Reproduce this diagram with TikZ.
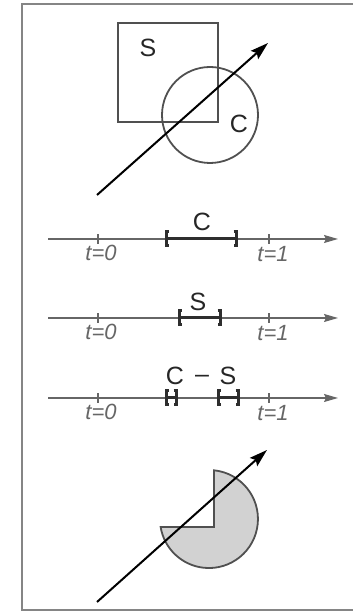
\documentclass[tikz,border=0pt]{standalone}
\usepackage{fontspec}
\setmainfont{Liberation Sans}
\usetikzlibrary{arrows.meta}
\definecolor{framegray}{HTML}{858585}
\definecolor{shapegray}{HTML}{505050}
\definecolor{linegray}{HTML}{666666}
\definecolor{intgray}{HTML}{2E2E2E}
\definecolor{fillgray}{HTML}{D2D2D2}
\tikzset{
  frameline/.style={draw=framegray, line width=2.5pt},
  shapeline/.style={draw=shapegray, line width=1.8pt},
  ray/.style={draw=black, line width=2pt, -{Stealth[length=18pt,width=11pt,inset=3pt]}},
  numline/.style={draw=linegray, line width=1.4pt, -{Stealth[length=14pt,width=8pt,inset=2pt]}},
  tickmark/.style={draw=linegray, line width=1.1pt},
  interval/.style={draw=intgray, line width=3pt},
  biglabel/.style={inner sep=0pt, text=black!85, font=\fontsize{25}{28}\selectfont},
  tlabel/.style={inner sep=0pt, text=linegray, font=\fontsize{22}{24}\selectfont\itshape},
}
\begin{document}
\begin{tikzpicture}[x=1pt,y=1pt]
\useasboundingbox (0,0) rectangle (353,613);
% frame
\draw[frameline] (353,609) -- (22,609) -- (22,3) -- (353,3);

% top figure
\draw[shapeline] (118,491) rectangle (218,590);
\node[biglabel] (lS) at (148,565) {S};
\draw[shapeline] (210,498) circle[radius=48];
\node[biglabel] (lC) at (239,489) {C};
\coordinate (r1a) at (97,418);
\coordinate (r1b) at (268,570);
\draw[ray] (r1a) -- (r1b);

% number line 1
\coordinate (n1a) at (48,374);
\coordinate (n1b) at (338,374);
\draw[numline] (n1a) -- (n1b);
\draw[tickmark] (98,369) -- (98,379);
\draw[tickmark] (269,369) -- (269,379);
\node[tlabel] (t10) at (101,360) {t=0};
\node[tlabel] (t11) at (273,359) {t=1};
\draw[interval] (168.5,381) -- (166,381) -- (166,367) -- (168.5,367)
                (166,374) -- (236,374)
                (233.5,381) -- (236,381) -- (236,367) -- (233.5,367);
\node[biglabel] (l1C) at (202,391) {C};

% number line 2
\coordinate (n2a) at (48,295);
\coordinate (n2b) at (338,295);
\draw[numline] (n2a) -- (n2b);
\draw[tickmark] (98,290) -- (98,300);
\draw[tickmark] (269,290) -- (269,300);
\node[tlabel] (t20) at (101,281) {t=0};
\node[tlabel] (t21) at (273,280) {t=1};
\draw[interval] (181.5,302) -- (179,302) -- (179,288) -- (181.5,288)
                (179,295) -- (220,295)
                (217.5,302) -- (220,302) -- (220,288) -- (217.5,288);
\node[biglabel] (l2S) at (198,311) {S};

% number line 3
\coordinate (n3a) at (48,215);
\coordinate (n3b) at (338,215);
\draw[numline] (n3a) -- (n3b);
\draw[tickmark] (98,210) -- (98,220);
\draw[tickmark] (269,210) -- (269,220);
\node[tlabel] (t30) at (101,201) {t=0};
\node[tlabel] (t31) at (273,200) {t=1};
\draw[interval] (168.5,222) -- (166,222) -- (166,208) -- (168.5,208)
                (166,215) -- (176,215)
                (173.5,222) -- (176,222) -- (176,208) -- (173.5,208);
\draw[interval] (220.5,222) -- (218,222) -- (218,208) -- (220.5,208)
                (218,215) -- (238,215)
                (235.5,222) -- (238,222) -- (238,208) -- (235.5,208);
\node[biglabel] (l3C) at (175,237) {C};
\node[biglabel] (l3d) at (202,234) {--};
\node[biglabel] (l3S) at (228,237) {S};

% bottom figure
\draw[shapeline, fill=fillgray] (214,86) -- (214,142.7)
   arc[start angle=84.1, end angle=-170.6, radius=49] -- cycle;
\coordinate (r2a) at (97,11);
\coordinate (r2b) at (267,163);
\draw[ray] (r2a) -- (r2b);
\end{tikzpicture}
\end{document}
